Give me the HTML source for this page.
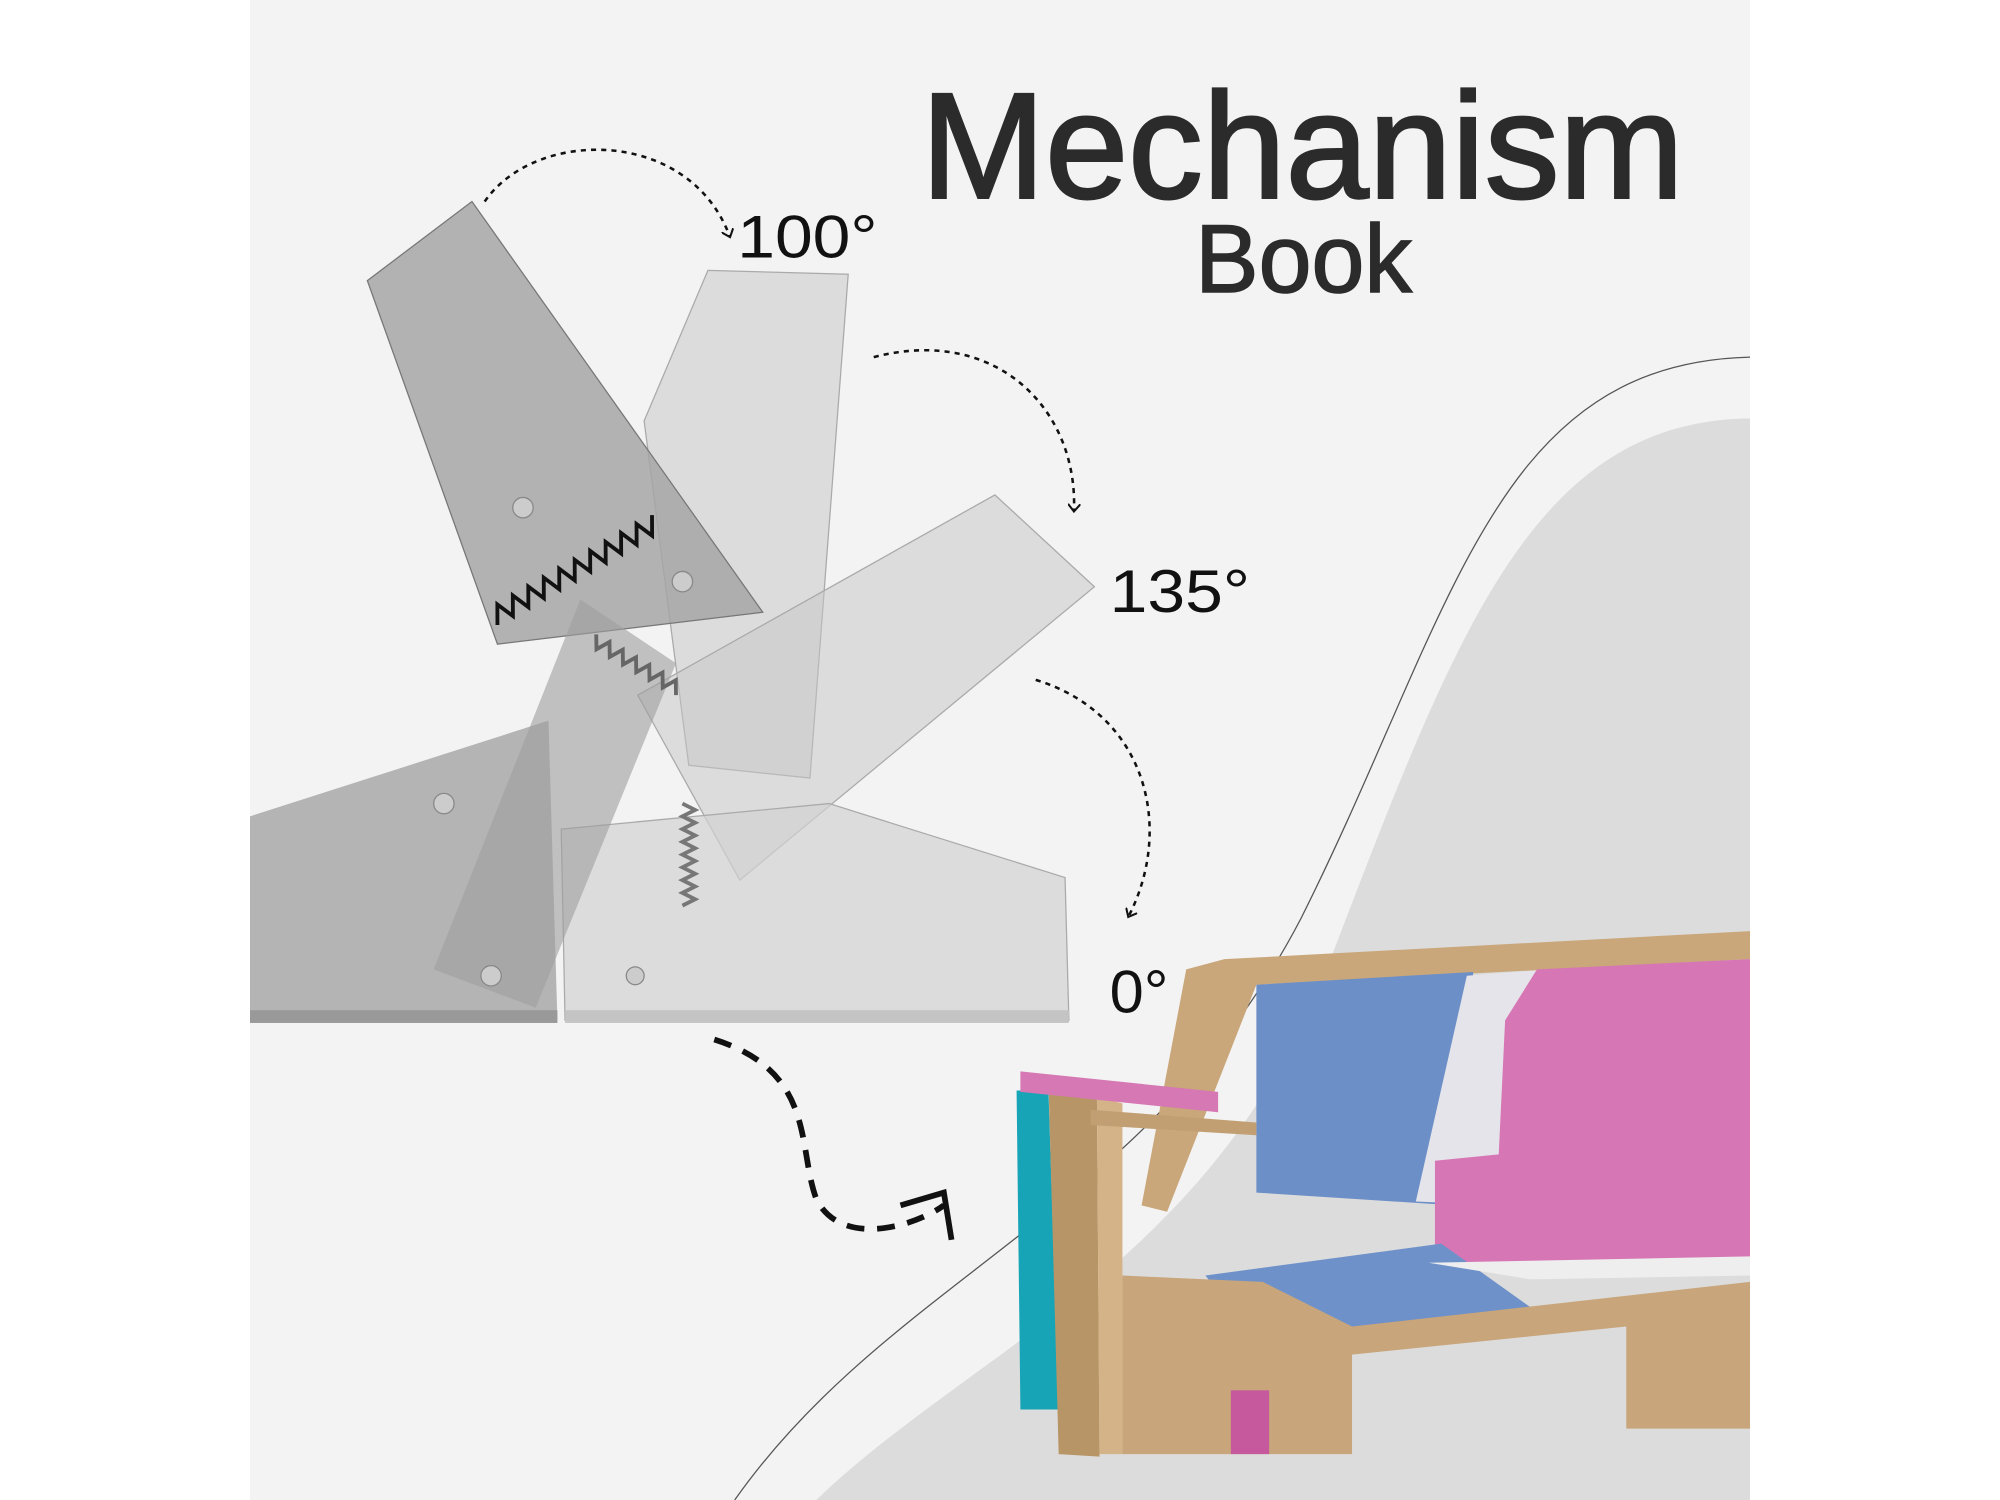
<!DOCTYPE html>
<html><head><meta charset="utf-8"><style>
html,body{margin:0;padding:0;background:#fff;}
svg{display:block}
</style></head><body>
<svg width="2000" height="1500" viewBox="0 0 1568 1176" preserveAspectRatio="none" xmlns="http://www.w3.org/2000/svg">
<defs>
<marker id="ah" markerWidth="10" markerHeight="10" refX="5" refY="5" orient="auto" markerUnits="userSpaceOnUse">
<path d="M0,0 L6,5 L0,10" fill="none" stroke="#111" stroke-width="1.6"/></marker>
</defs>
<rect x="196" y="0" width="1176" height="1176" fill="#f3f3f3"/>
<!-- grey blob -->
<path d="M640,1176 C760,1060 950,990 1040,760 C1140,500 1200,330 1372,328 L1372,1176 Z" fill="#dcdcdc"/>
<path d="M576,1176 C700,1000 900,950 1020,720 C1140,480 1170,285 1372,280" fill="none" stroke="#555" stroke-width="1"/>
<!-- text -->
<g font-family="'Liberation Sans',sans-serif" fill="#2b2b2b" stroke="#2b2b2b">
<text x="1021" y="155" font-size="118" stroke-width="2" text-anchor="middle" textLength="598" lengthAdjust="spacingAndGlyphs">Mechanism</text>
<text x="1022" y="229" font-size="76" stroke-width="1.2" text-anchor="middle" textLength="170" lengthAdjust="spacingAndGlyphs">Book</text>
</g>
<g font-family="'Liberation Sans',sans-serif" fill="#111">
<text x="578" y="202" font-size="47" textLength="110" lengthAdjust="spacingAndGlyphs">100°</text>
<text x="870" y="480" font-size="47" textLength="110" lengthAdjust="spacingAndGlyphs">135°</text>
<text x="870" y="794" font-size="47" textLength="46" lengthAdjust="spacingAndGlyphs">0°</text>
</g>
<!-- hinge -->
<polygon points="505,330 555,212 665,215 635,610 540,600" fill="#c8c8c8" fill-opacity="0.55" stroke="#aaa"/>
<polygon points="500,545 780,388 858,460 580,690" fill="#c6c6c6" fill-opacity="0.5" stroke="#aaa"/>
<polygon points="288,220 370,158 598,480 390,505" fill="#a6a6a6" fill-opacity="0.85" stroke="#777"/>
<polygon points="196,640 430,565 437,800 196,800" fill="#adadad" fill-opacity="0.9"/>
<polygon points="440,650 650,630 835,688 838,800 443,800" fill="#d2d2d2" fill-opacity="0.7" stroke="#aaa"/>
<polygon points="340,760 455,470 530,520 420,790" fill="#9e9e9e" fill-opacity="0.6"/>
<rect x="196" y="792" width="241" height="10" fill="#999"/>
<rect x="443" y="792" width="395" height="10" fill="#c4c4c4"/>
<path d="M390,490 l8,-14 l6,14 l8,-14 l6,14 l8,-14 l6,14 l8,-14 l6,14 l8,-14 l6,14 l8,-14 l6,14 l8,-14 l6,14 l8,-14 l6,14 l8,-14 l6,14 l8,-14 l6,14 l8,-14" fill="none" stroke="#111" stroke-width="3" transform="rotate(-30 390 490)"/>
<path d="M530,545 l10,-6 l-10,-6 l10,-6 l-10,-6 l10,-6 l-10,-6 l10,-6 l-10,-6 l10,-6 l-10,-6 l10,-6 l-10,-6 l10,-6" fill="none" stroke="#666" stroke-width="3" transform="rotate(-60 530 545)"/>
<path d="M535,710 l10,-5 l-10,-5 l10,-5 l-10,-5 l10,-5 l-10,-5 l10,-5 l-10,-5 l10,-5 l-10,-5 l10,-5 l-10,-5 l10,-5 l-10,-5 l10,-5 l-10,-5" fill="none" stroke="#777" stroke-width="3"/>
<g fill="#ccc" stroke="#888"><circle cx="410" cy="398" r="8"/><circle cx="535" cy="456" r="8"/><circle cx="348" cy="630" r="8"/><circle cx="385" cy="765" r="8"/><circle cx="498" cy="765" r="7"/></g>
<!-- dashed arrows -->
<g fill="none" stroke="#111" stroke-width="2" stroke-dasharray="4,4">
<path d="M380,158 C420,100 540,100 572,185" marker-end="url(#ah)"/>
<path d="M685,280 C780,255 845,320 842,400" marker-end="url(#ah)"/>
<path d="M812,533 C900,560 920,650 885,718" marker-end="url(#ah)"/>
</g>
<path d="M560,815 C640,840 625,900 640,940 C660,980 720,960 740,945" fill="none" stroke="#111" stroke-width="4.5" stroke-dasharray="14,10"/>
<path d="M706,945 L740,935 L746,972" fill="none" stroke="#111" stroke-width="4.5"/>
<!-- sofa -->
<polygon points="930,760 960,752 1372,730 1372,752 985,772 915,950 895,945" fill="#c9a77a"/>
<polygon points="985,772 1155,762 1140,945 985,935" fill="#6d8fc7"/>
<polygon points="1150,765 1215,760 1180,945 1110,942" fill="#e4e4ea"/>
<polygon points="1205,760 1372,752 1372,990 1125,990 1125,910 1175,905 1180,800" fill="#d676b4"/>
<polygon points="945,1000 1130,975 1200,1025 990,1055" fill="#6f91c9"/>
<polygon points="1120,990 1372,985 1372,1000 1200,1003" fill="#eee"/>
<polygon points="880,1000 990,1005 1060,1040 1372,1005 1372,1120 1275,1120 1275,1040 1060,1062 1060,1140 880,1140" fill="#c8a57a"/>
<polygon points="797,855 822,855 830,1105 800,1105" fill="#17a4b6"/>
<polygon points="822,848 860,860 862,1142 830,1140" fill="#b89567"/>
<polygon points="860,860 880,865 880,1140 862,1140" fill="#d4b388"/>
<polygon points="800,840 955,856 955,872 800,856" fill="#d578b3"/>
<polygon points="855,870 985,880 985,890 855,882" fill="#c29f72"/>
<rect x="965" y="1090" width="30" height="50" fill="#c6589d"/>
</svg>
</body></html>
